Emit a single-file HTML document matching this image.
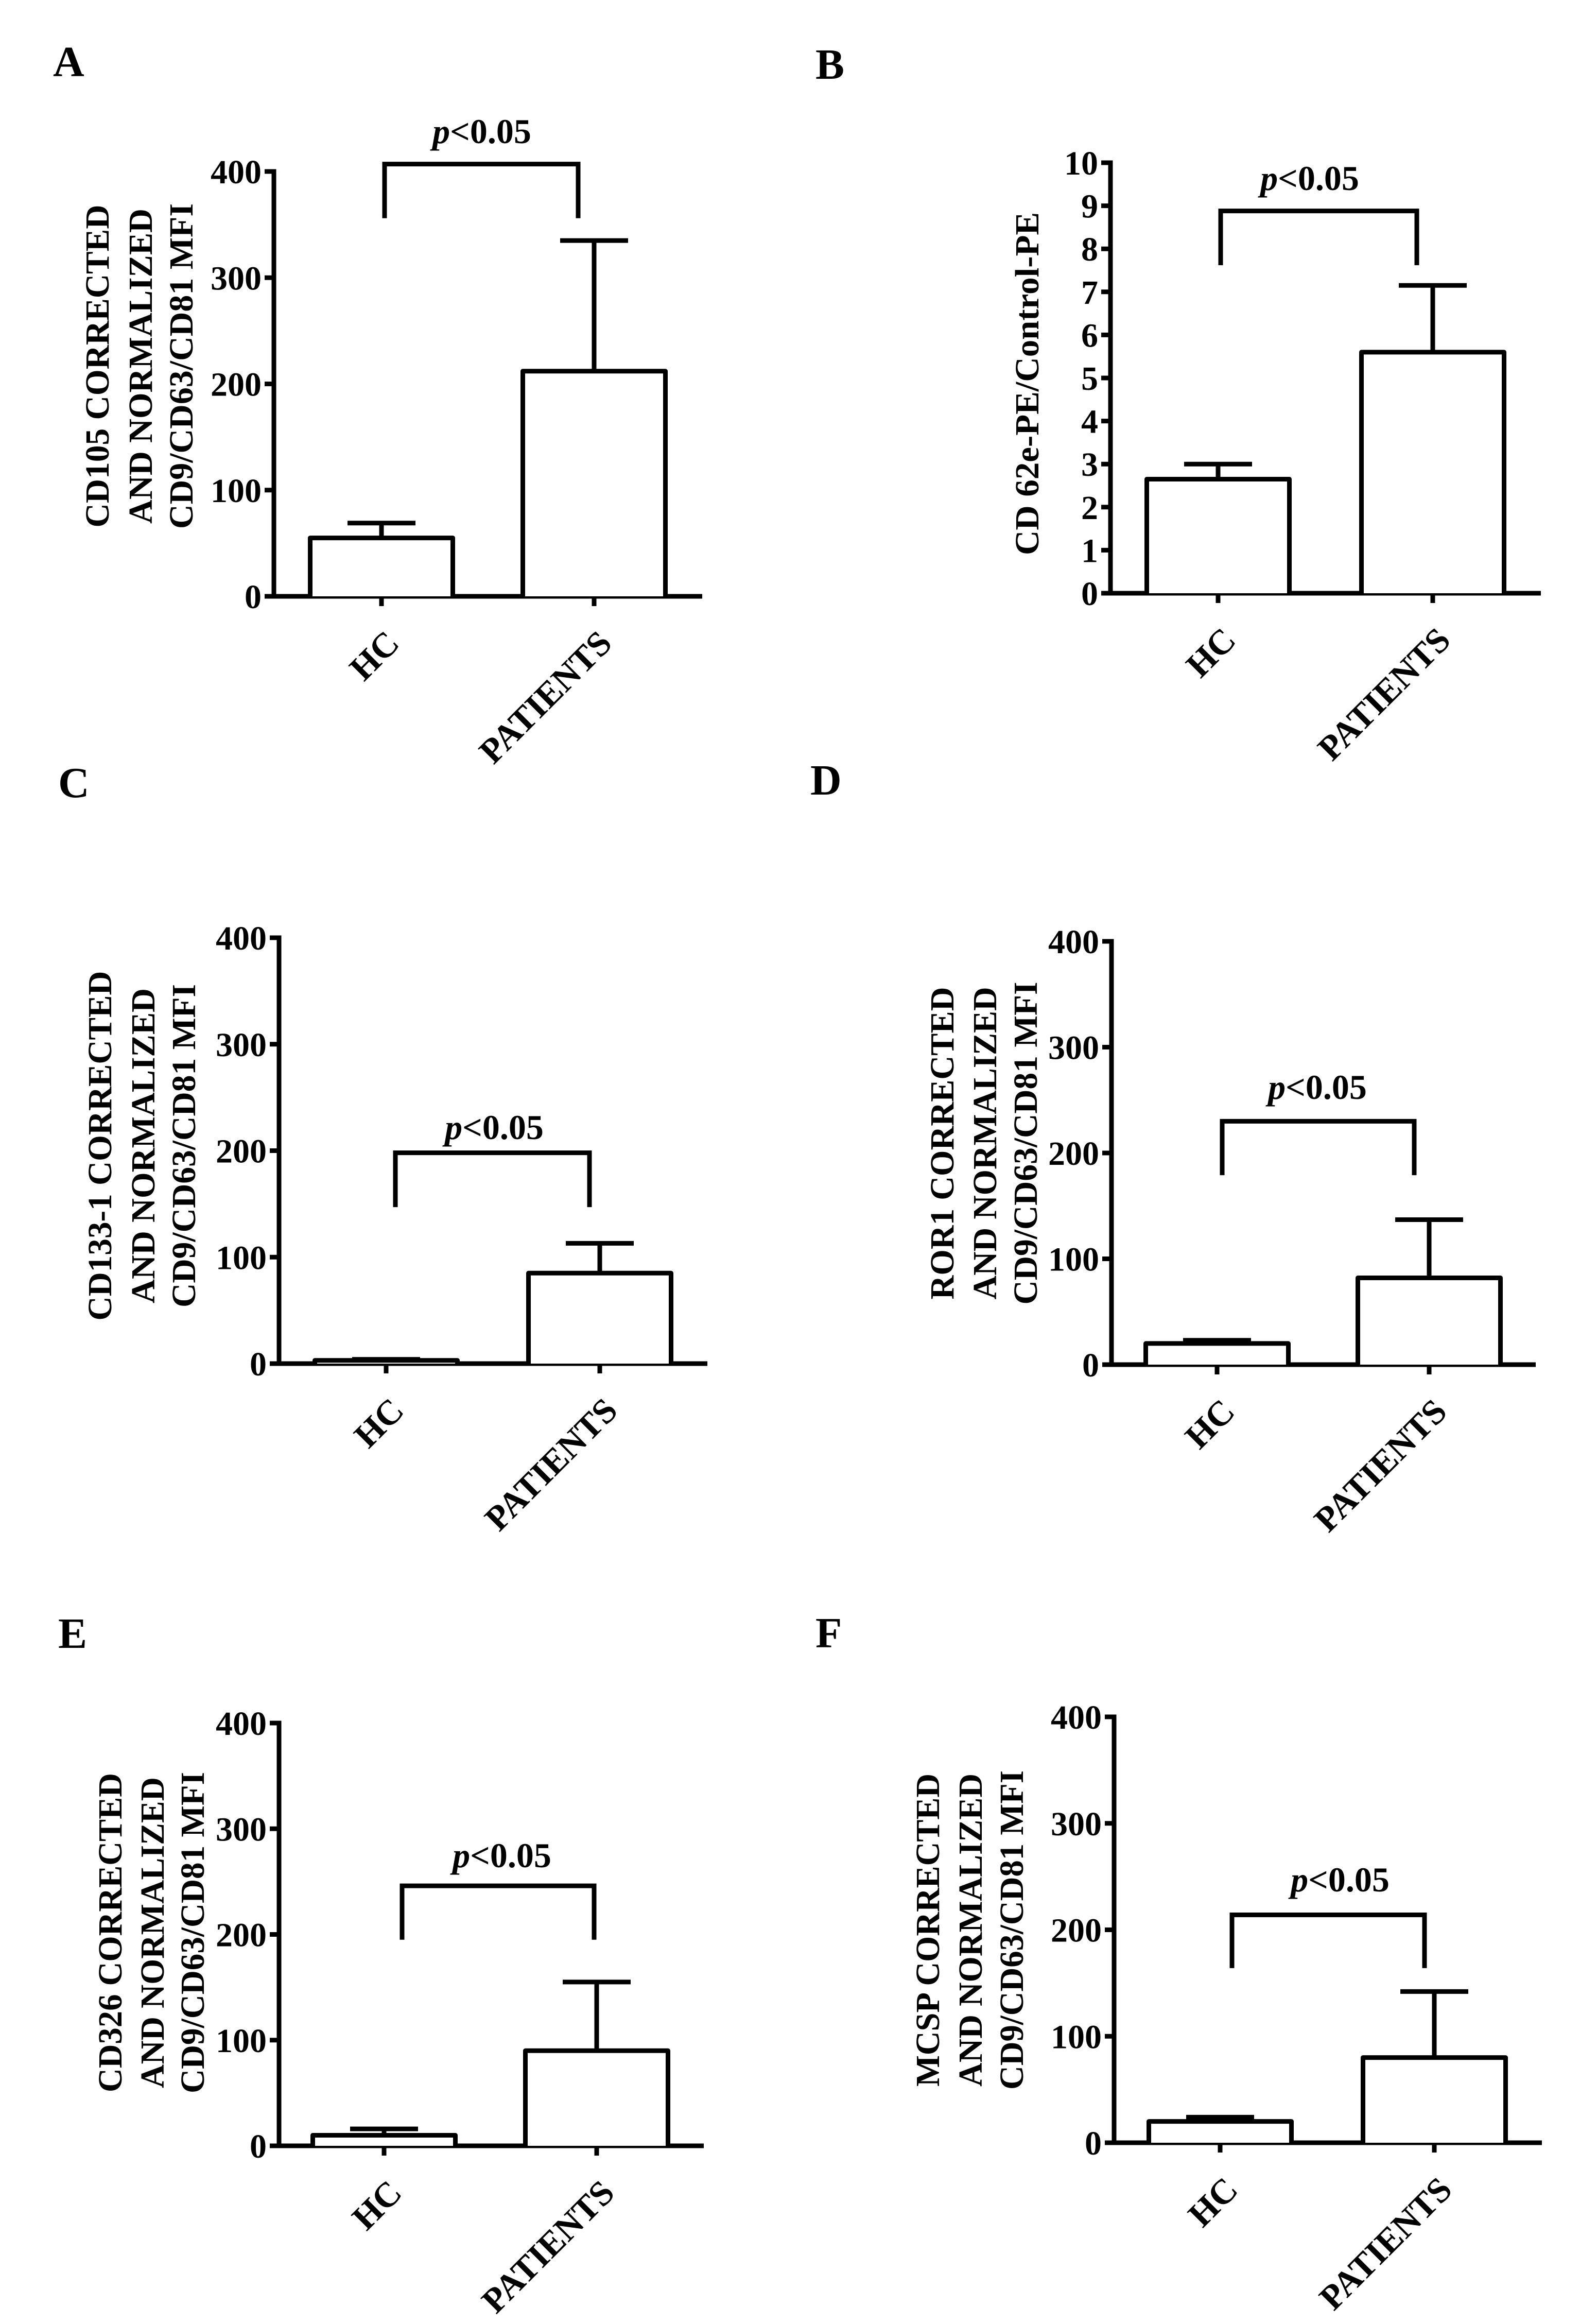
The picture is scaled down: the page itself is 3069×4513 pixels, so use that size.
<!DOCTYPE html>
<html><head><meta charset="utf-8"><title>Six bar chart panels A–F comparing HC and PATIENTS</title>
<style>
html,body{margin:0;padding:0;background:#fff;}
svg{display:block;}
text{font-family:"Liberation Serif","Times New Roman",serif;font-weight:bold;fill:#000;}
</style></head>
<body>
<svg id="fig" xmlns="http://www.w3.org/2000/svg" width="3069" height="4513" viewBox="0 0 3069 4513"></svg>
<script>
// ---- data ----
const categories = ["HC", "PATIENTS"];
const ticks400 = [0, 100, 200, 300, 400];
const ticks10 = [0, 1, 2, 3, 4, 5, 6, 7, 8, 9, 10];
const meansA = [55, 212];   const errA = [69, 335];   const bracketA = [407, 356];
const meansB = [2.65, 5.6]; const errB = [3.0, 7.15]; const bracketB = [8.88, 7.62];
const meansC = [3, 85];     const errC = [4, 113];    const bracketC = [198, 147];
const meansD = [20, 82];    const errD = [23, 137];   const bracketD = [230, 179];
const meansE = [10, 90];    const errE = [16, 155];   const bracketE = [246, 195];
const meansF = [20, 80];    const errF = [24, 142];   const bracketF = [214, 164];
const titleA = ["CD105 CORRECTED", "AND NORMALIZED", "CD9/CD63/CD81 MFI"];
const titleB = ["CD 62e-PE/Control-PE"];
const titleC = ["CD133-1 CORRECTED", "AND NORMALIZED", "CD9/CD63/CD81 MFI"];
const titleD = ["ROR1 CORRECTED", "AND NORMALIZED", "CD9/CD63/CD81 MFI"];
const titleE = ["CD326 CORRECTED", "AND NORMALIZED", "CD9/CD63/CD81 MFI"];
const titleF = ["MCSP CORRECTED", "AND NORMALIZED", "CD9/CD63/CD81 MFI"];

// ---- layout ----
const NS = "http://www.w3.org/2000/svg";
const svg = document.getElementById("fig");
const SW = 9;

function mk(tag, attrs, parent) {
  const e = document.createElementNS(NS, tag);
  for (const k in attrs) e.setAttribute(k, attrs[k]);
  parent.appendChild(e);
  return e;
}

function panel(P, means, errs, bracket, ticks, title) {
  const g = mk("g", {}, svg);
  
  
  const yMax = ticks[ticks.length - 1];
  const y = v => P.y0 - (v / yMax) * (P.y0 - P.yTop);
  const xs = [P.t1, P.t2];

  const lt = mk("text", {x: P.lx, y: P.ly, "font-size": 84}, g);
  lt.textContent = P.letter;
  
  

  const ya = mk("line", {x1: P.ax, y1: y(yMax) - SW / 2, x2: P.ax, y2: P.y0 + SW / 2, stroke: "#000", "stroke-width": SW}, g);
  
  
  ticks.forEach(t => {
    const tl = mk("line", {x1: P.ax - 18, y1: y(t), x2: P.ax, y2: y(t), stroke: "#000", "stroke-width": SW}, g);
    
    
    const tx = mk("text", {x: P.ax - 24, y: y(t) + 23, "font-size": 66, "text-anchor": "end"}, g);
    tx.textContent = t;
    
    
  });
  const xa = mk("line", {x1: P.ax - 18, y1: P.y0, x2: P.xEnd, y2: P.y0, stroke: "#000", "stroke-width": SW}, g);
  
  

  categories.forEach((c, i) => {
    const cx = xs[i];
    const tk = mk("line", {x1: cx, y1: P.y0, x2: cx, y2: P.y0 + 19, stroke: "#000", "stroke-width": SW}, g);
    
    
    const bw = 277;
    const top = y(means[i]);
    const bar = mk("path", {d: `M${cx - bw / 2},${P.y0} V${top} H${cx + bw / 2} V${P.y0}`, fill: "#fff", stroke: "#000", "stroke-width": SW, "stroke-linejoin": "round"}, g);
    
    
    const et = y(errs[i]);
    const eb = mk("path", {d: `M${cx},${top} V${et} M${cx - 66},${et} H${cx + 66}`, fill: "none", stroke: "#000", "stroke-width": SW}, g);
    
    
    const lab = mk("text", {x: 0, y: 0, "font-size": 68, "text-anchor": "end", transform: `translate(${cx + 38},${P.y0 + 95}) rotate(-45)`}, g);
    lab.textContent = c;
    
    
  });

  const by = y(bracket[0]), bd = y(bracket[1]);
  const br = mk("path", {d: `M${P.bx1},${bd} V${by} H${P.bx2} V${bd}`, fill: "none", stroke: "#000", "stroke-width": SW}, g);
  
  
  const pt = mk("text", {x: P.px, y: P.py, "font-size": 68, "text-anchor": "middle"}, g);
  
  
  const ts = mk("tspan", {"font-style": "italic"}, pt);
  ts.textContent = "p";
  pt.appendChild(document.createTextNode("<0.05"));

  title.forEach((line, i) => {
    const tx = P.tx[i] + 24;
    const t = mk("text", {x: 0, y: 0, "font-size": 66, "text-anchor": "middle", transform: `translate(${tx},${P.tyc}) rotate(-90)`}, g);
    if (P.tl && P.tl[i]) { t.setAttribute("textLength", P.tl[i]); t.setAttribute("lengthAdjust", "spacingAndGlyphs"); }
    t.textContent = line;
    
    
  });
}

panel({letter: "A", lx: 103, ly: 148, ax: 532, y0: 1158, yTop: 333, xEnd: 1364, t1: 741, t2: 1154,
  bx1: 747, bx2: 1123, px: 936, py: 278, tx: [187, 271, 350], tyc: 711, tl: [627, 612, 632]},
  meansA, errA, bracketA, ticks400, titleA);
panel({letter: "B", lx: 1584, ly: 153, ax: 2157, y0: 1152, yTop: 316, xEnd: 2993, t1: 2366, t2: 2783,
  bx1: 2371, bx2: 2752, px: 2544, py: 369, tx: [1993], tyc: 745, tl: [666]},
  meansB, errB, bracketB, ticks10, titleB);
panel({letter: "C", lx: 113, ly: 1548, ax: 542, y0: 2648, yTop: 1821, xEnd: 1374, t1: 750, t2: 1165,
  bx1: 768, bx2: 1145, px: 960, py: 2212, tx: [192, 276, 355], tyc: 2225, tl: [679, 612, 628]},
  meansC, errC, bracketC, ticks400, titleC);
panel({letter: "D", lx: 1574, ly: 1543, ax: 2159, y0: 2650, yTop: 1828, xEnd: 2983, t1: 2364, t2: 2776,
  bx1: 2374, bx2: 2747, px: 2559, py: 2134, tx: [1828, 1911, 1990], tyc: 2220, tl: [607, 607, 627]},
  meansD, errD, bracketD, ticks400, titleD);
panel({letter: "E", lx: 113, ly: 3200, ax: 542, y0: 4167, yTop: 3346, xEnd: 1367, t1: 746, t2: 1159,
  bx1: 781, bx2: 1154, px: 975, py: 3626, tx: [212, 294, 372], tyc: 3753, tl: [620, 604, 624]},
  meansE, errE, bracketE, ticks400, titleE);
panel({letter: "F", lx: 1584, ly: 3199, ax: 2164, y0: 4161, yTop: 3334, xEnd: 2995, t1: 2370, t2: 2786,
  bx1: 2393, bx2: 2767, px: 2603, py: 3673, tx: [1800, 1883, 1963], tyc: 3748, tl: [608, 608, 620]},
  meansF, errF, bracketF, ticks400, titleF);
</script>
</body></html>
